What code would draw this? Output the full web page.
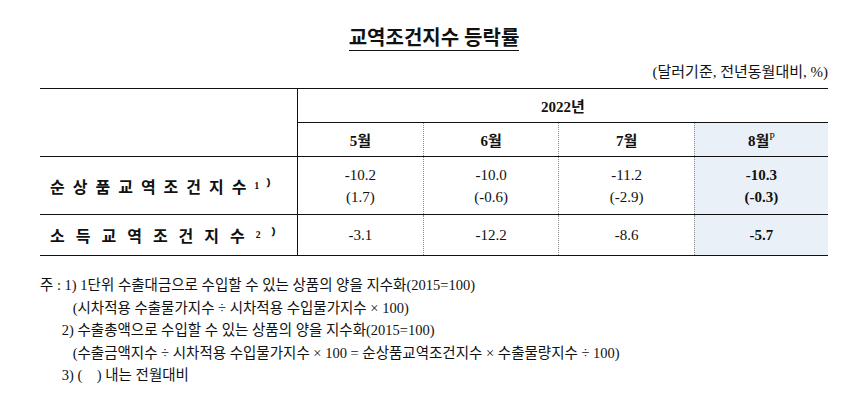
<!DOCTYPE html>
<html><head><meta charset="utf-8">
<script src="https://cdn.jsdelivr.net/npm/chart.js@4.4.0/dist/chart.umd.min.js"></script>
<style>
body{margin:0;width:868px;height:412px;background:#fff;font-family:"Liberation Serif","Noto Sans CJK KR",serif;color:#111;position:relative;overflow:hidden}
#title{position:absolute;top:22px;left:0;width:868px;text-align:center;font-size:20px;font-weight:bold}
#title span{border-bottom:1.5px solid #111;padding-bottom:1px}
#unit{position:absolute;top:60px;right:40px;font-size:15px}
table{position:absolute;top:88px;left:40px;width:788px;border-collapse:collapse;font-size:15px}
td{text-align:center;padding:0;height:33px}
.top{border-top:1.5px solid #111}
.lab{border-right:1px solid #111;text-align:left;padding-left:10px;font-weight:bold;font-size:16px}
.dot{border-right:1px dotted #888}
.hl{background:#e9f0f8}
.b{font-weight:bold}
.mid{border-top:1px solid #111}
.bot{border-bottom:1px solid #111}
#notes{position:absolute;top:274px;left:40px;font-size:14.5px;line-height:22.5px}
</style></head><body>
<div id="title"><span>교역조건지수 등락률</span></div>
<div id="unit">(달러기준, 전년동월대비, %)</div>
<table id="t"></table>
<div id="notes"></div>
<script>
const year = "2022년";
const months = ["5월", "6월", "7월", "8월"];
const rowNames = ["순상품교역조건지수¹⁾", "소득교역조건지수²⁾"];
const rowSpacing = ["8px", "11px"];
const netTerms = ["-10.2", "-10.0", "-11.2", "-10.3"];
const netTermsMoM = ["(1.7)", "(-0.6)", "(-2.9)", "(-0.3)"];
const incomeTerms = ["-3.1", "-12.2", "-8.6", "-5.7"];
const notes = [
  "주 : 1) 1단위 수출대금으로 수입할 수 있는 상품의 양을 지수화(2015=100)",
  "&nbsp;&nbsp;&nbsp;&nbsp;&nbsp;&nbsp;&nbsp;&nbsp;&nbsp;(시차적용 수출물가지수 ÷ 시차적용 수입물가지수 × 100)",
  "&nbsp;&nbsp;&nbsp;&nbsp;&nbsp;&nbsp;2) 수출총액으로 수입할 수 있는 상품의 양을 지수화(2015=100)",
  "&nbsp;&nbsp;&nbsp;&nbsp;&nbsp;&nbsp;&nbsp;&nbsp;&nbsp;(수출금액지수 ÷ 시차적용 수입물가지수 × 100 = 순상품교역조건지수 × 수출물량지수 ÷ 100)",
  "&nbsp;&nbsp;&nbsp;&nbsp;&nbsp;&nbsp;3) (&nbsp;&nbsp;&nbsp;&nbsp;) 내는 전월대비"
];
const last = months.length - 1;
const cell = (v, i, extra) => `<td class="${i < last ? 'dot' : 'hl b'} ${extra || ''}">${v}</td>`;
let h = `<tr><td class="lab top" rowspan="2" style="width:247px"></td><td class="top b" colspan="4" style="border-bottom:1px solid #111">${year}</td></tr>`;
h += '<tr>' + months.map((m, i) => cell(i === last ? m + '<sup style="font-size:10px;font-weight:normal">P</sup>' : m, i, 'b')).join('') + '</tr>';
h += `<tr style="height:58px"><td class="lab mid" style="border-top:1.5px solid #111;letter-spacing:${rowSpacing[0]}">${rowNames[0]}</td>` + netTerms.map((v, i) => cell(v + '<br>' + netTermsMoM[i], i, 'mid" style="border-top:1.5px solid #111;line-height:22px')).join('') + '</tr>';
h += `<tr style="height:41px"><td class="lab mid bot" style="letter-spacing:${rowSpacing[1]}">${rowNames[1]}</td>` + incomeTerms.map((v, i) => cell(v, i, 'mid bot')).join('') + '</tr>';
document.getElementById('t').innerHTML = h;
document.getElementById('notes').innerHTML = notes.join('<br>');
</script>
</body></html>
